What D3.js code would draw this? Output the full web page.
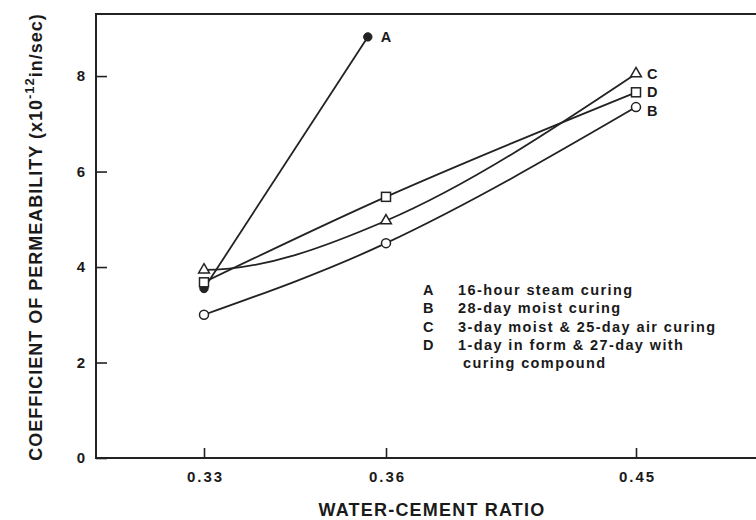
<!DOCTYPE html>
<html lang="en">
<head>
    <meta charset="UTF-8">
    <title>Coefficient of Permeability vs Water-Cement Ratio</title>
    <script src="https://d3js.org/d3.v7.min.js"></script>
    <style>
        body { margin: 0; background: #fff; }
        text { font-family: "Liberation Sans", Arial, sans-serif; font-weight: bold; fill: #1a1a1a; }
        .frame { stroke: #222; stroke-width: 2; fill: none; }
        .series { stroke: #222; stroke-width: 1.8; fill: none; }
        .axis .domain { display: none; }
        .axis line { stroke: #222; stroke-width: 1.6; }
    </style>
</head>
<body>
    <svg id="chart" width="756" height="520"></svg>
    <script>
        // tick values
        const xTicks = [0.33, 0.36, 0.45];
        const yTicks = [0, 2, 4, 6, 8];

        // series
        const seriesA = [[0.33, 3.55], [0.357, 8.82]];   // 16-hour steam curing
        const seriesB = [[0.33, 3.0], [0.36, 4.5], [0.45, 7.35]];
        const seriesC = [[0.33, 3.94], [0.36, 4.97], [0.45, 8.05]];
        const seriesD = [[0.33, 3.68], [0.36, 5.47], [0.45, 7.66]];

        const legendKeys = ["A", "B", "C", "D"];
        const legendLabels = [
            ["16-hour steam curing"],
            ["28-day moist curing"],
            ["3-day moist & 25-day air curing"],
            ["1-day in form & 27-day with", "curing compound"]
        ];

        const plotLeft = 96, plotTop = 14, plotRight = 756, plotBottom = 458;
        const svg = d3.select("#chart");

        // x axis is not evenly spaced in the original, so use a piecewise scale
        const x = d3.scaleLinear()
            .domain(xTicks)
            .range([204, 386, 636]);
        const y = d3.scaleLinear()
            .domain([0, 9.3])
            .range([plotBottom, plotTop]);

        // frame: left, top, bottom
        svg.append("path").attr("class", "frame")
            .attr("d", `M${plotRight},${plotTop}H${plotLeft}V${plotBottom}H${plotRight}`);

        // axes with inward ticks
        const yAxis = svg.append("g").attr("class", "axis")
            .attr("transform", `translate(${plotLeft},0)`)
            .call(d3.axisLeft(y).tickValues(yTicks).tickFormat(d3.format("d"))
                .tickSizeInner(-11).tickSizeOuter(0).tickPadding(11));
        yAxis.selectAll("text").style("font-size", "15px");

        const xAxis = svg.append("g").attr("class", "axis")
            .attr("transform", `translate(0,${plotBottom})`)
            .call(d3.axisBottom(x).tickValues(xTicks).tickFormat(d3.format(".2f"))
                .tickSizeInner(-10).tickSizeOuter(0).tickPadding(13));
        xAxis.selectAll("text").style("font-size", "15px").style("letter-spacing", "2px")
            .attr("dx", 1);

        // hand-drawn looking curves: cubic hermite through the points,
        // optional fixed pixel slope at the first point
        function splinePath(pts, firstSlope) {
            const P = pts.map(d => [x(d[0]), y(d[1])]);
            const n = P.length;
            const s = d3.range(n - 1).map(i => (P[i + 1][1] - P[i][1]) / (P[i + 1][0] - P[i][0]));
            const t = [];
            for (let i = 1; i < n - 1; i++) t[i] = (s[i - 1] + s[i]) / 2;
            t[0] = firstSlope != null ? firstSlope : (n > 2 ? (3 * s[0] - t[1]) / 2 : s[0]);
            t[n - 1] = n > 2 ? (3 * s[n - 2] - t[n - 2]) / 2 : s[0];
            const p = d3.path();
            p.moveTo(P[0][0], P[0][1]);
            for (let i = 0; i < n - 1; i++) {
                const h = (P[i + 1][0] - P[i][0]) / 3;
                p.bezierCurveTo(P[i][0] + h, P[i][1] + t[i] * h,
                    P[i + 1][0] - h, P[i + 1][1] - t[i + 1] * h,
                    P[i + 1][0], P[i + 1][1]);
            }
            return p.toString();
        }

        const straight = d3.line().x(d => x(d[0])).y(d => y(d[1]));
        svg.append("path").attr("class", "series").attr("d", straight(seriesA));
        svg.append("path").attr("class", "series").attr("d", splinePath(seriesB));
        svg.append("path").attr("class", "series").attr("d", splinePath(seriesC, 0));
        svg.append("path").attr("class", "series").attr("d", splinePath(seriesD));

        // markers
        const g = svg.append("g");
        g.selectAll(".mA").data(seriesA).enter().append("circle")
            .attr("cx", d => x(d[0])).attr("cy", d => y(d[1])).attr("r", 4.2)
            .attr("fill", "#222").attr("stroke", "#222");
        g.selectAll(".mB").data(seriesB).enter().append("circle")
            .attr("cx", d => x(d[0])).attr("cy", d => y(d[1])).attr("r", 4.5)
            .attr("fill", "#fff").attr("stroke", "#222").attr("stroke-width", 1.5);
        g.selectAll(".mC").data(seriesC).enter().append("path")
            .attr("transform", d => `translate(${x(d[0])},${y(d[1])})`)
            .attr("d", d3.symbol(d3.symbolTriangle, 50))
            .attr("fill", "#fff").attr("stroke", "#222").attr("stroke-width", 1.5);
        g.selectAll(".mD").data(seriesD).enter().append("rect")
            .attr("x", d => x(d[0]) - 4.5).attr("y", d => y(d[1]) - 4.5)
            .attr("width", 9).attr("height", 9)
            .attr("fill", "#fff").attr("stroke", "#222").attr("stroke-width", 1.5);

        // end-of-line letters
        const ends = [
            ["A", seriesA[seriesA.length - 1], 5],
            ["C", seriesC[seriesC.length - 1], 5],
            ["D", seriesD[seriesD.length - 1], 5],
            ["B", seriesB[seriesB.length - 1], 9]
        ];
        svg.selectAll(".endlab").data(ends).enter().append("text")
            .attr("x", d => x(d[1][0]) + (d[0] === "A" ? 13 : 11))
            .attr("y", d => y(d[1][1]) + d[2])
            .style("font-size", "14.5px")
            .text(d => d[0]);

        // legend
        const leg = svg.append("g").attr("transform", "translate(423,295)");
        legendKeys.forEach((k, i) => {
            leg.append("text").attr("x", 0).attr("y", i * 18.3)
                .style("font-size", "14.5px").text(k);
            legendLabels[i].forEach((line, j) => {
                leg.append("text").attr("x", j === 0 ? 35 : 40).attr("y", (i + j) * 18.3)
                    .style("font-size", "14.5px").style("letter-spacing", "1.4px").text(line);
            });
        });

        // axis titles
        svg.append("text")
            .attr("x", 432).attr("y", 516)
            .attr("text-anchor", "middle")
            .style("font-size", "18px").style("letter-spacing", "1.2px")
            .text("WATER-CEMENT RATIO");

        const yt = svg.append("text")
            .attr("transform", "translate(42,237) rotate(-90)")
            .attr("text-anchor", "middle")
            .style("font-size", "18px").style("letter-spacing", "1px");
        yt.append("tspan").text("COEFFICIENT OF PERMEABILITY (x10");
        yt.append("tspan").attr("dy", -8).style("font-size", "13px").text("-12");
        yt.append("tspan").attr("dy", 8).text("in/sec)");
    </script>
</body>
</html>
